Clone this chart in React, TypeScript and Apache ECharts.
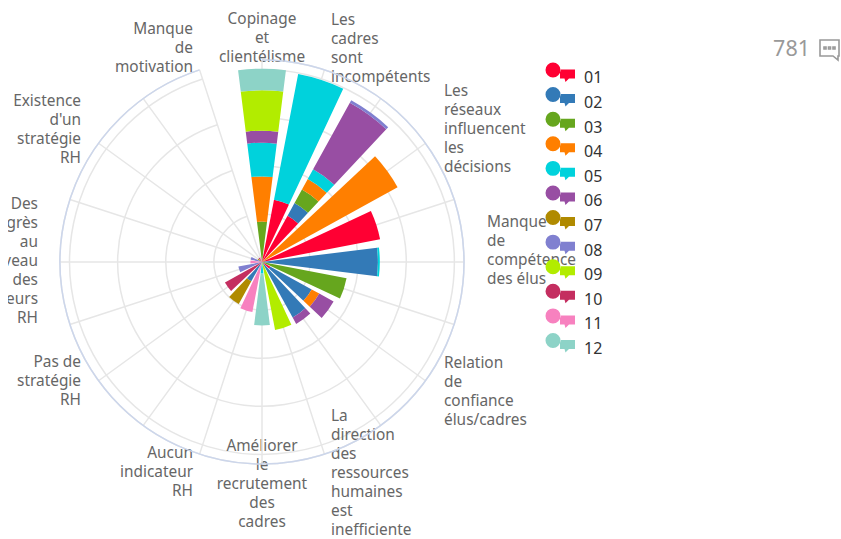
import React, { useEffect, useRef } from "react";
import * as echarts from "echarts";

const categories = [
  "Copinage\net\nclientélisme", "Les\ncadres\nsont\nincompétents", "", "Les\nréseaux\ninfluencent\nles\ndécisions", "",
  "Manque\nde\ncompétence\ndes élus", "", "Relation\nde\nconfiance\nélus/cadres", "",
  "La\ndirection\ndes\nressources\nhumaines\nest\ninefficiente", "Améliorer\nle\nrecrutement\ndes\ncadres",
  "Aucun\nindicateur\nRH", "", "Pas de\nstratégie\nRH", "", "Des\nprogrès\nau\nniveau\ndes\nacteurs\nRH", "",
  "Existence\nd'un\nstratégie\nRH", "", "Manque\nde\nmotivation",
];

const s01 = [0, 6.6, 5.5, 0, 12.5, 0, 0, 1, 0, 0, 0, 0, 0, 0, 0, 0, 0, 0, 0, 0];
const s02 = [0, 0, 1.5, 0, 0, 12.05, 0, 4.9, 6.6, 0, 0, 0, 2.3, 0, 0, 0, 0, 0, 0, 0];
const s03 = [4.2, 0, 1.6, 0, 0, 0, 8.95, 0, 0, 0, 0, 0, 0, 0, 0, 0, 0, 0, 0, 0];
const s04 = [4.7, 0, 1.25, 16.1, 0, 0, 0, 0.9, 0, 0, 0, 0, 0, 0, 0, 0, 0, 0, 0, 0];
const s05 = [3.5, 13.3, 1.15, 0, 0, 0.2, 0, 0, 0, 0, 1.2, 0, 0, 0, 0, 0, 0, 0, 0, 0];
const s06 = [1.25, 0, 7.9, 0, 0, 0, 0, 1.7, 0.75, 0, 0, 0, 0, 0, 0, 0, 0, 0, 0, 0];
const s07 = [0, 0, 0, 0, 0, 0, 0, 0, 0, 0, 0, 0, 2.7, 0, 0, 0, 0, 0.5, 0, 0];
const s08 = [0, 0, 0.3, 0, 0, 0, 0, 0, 0, 0, 0, 0, 0, 0, 2.5, 0, 1.2, 0, 0, 0];
const s09 = [4.2, 0, 0, 0, 0, 0, 0, 0, 0, 7.2, 0, 0, 0, 0, 0, 0, 0, 0, 0, 0];
const s10 = [0, 0, 0, 0, 0, 0, 0, 0, 0, 0, 0, 0, 0, 4.4, 0, 0, 0, 0, 0.5, 0];
const s11 = [0, 0, 0, 0, 0, 0, 0, 0, 0, 0, 0, 5.3, 0, 0, 0, 1.2, 0, 0, 0, 0.5];
const s12 = [2.25, 0, 0, 0, 0, 0, 0, 0, 0, 0, 5.4, 0, 0, 0, 0, 0, 0, 0, 0, 0];

const seriesNames = ["01", "02", "03", "04", "05", "06", "07", "08", "09", "10", "11", "12"];
const seriesValues = [s01, s02, s03, s04, s05, s06, s07, s08, s09, s10, s11, s12];
const colors = ["#FF0033", "#337AB7", "#66A61E", "#FF7F00", "#00D2DC", "#984EA3", "#B08A00", "#8080D0", "#B2EC00", "#C42E60", "#F781BF", "#8DD3C7"];
const commentCount = "781";

// label padding [top, right, bottom, left] by category index
const labelPadding: Record<number, number[]> = {
  0: [0, 0, -0.5, 0], 1: [0, 0, -10.9, 8.1], 3: [0, 0, -29.3, 22.6], 5: [0, 0, 24, 28],
  7: [-24.3, 0, 0, 22.6], 9: [-43.4, 0, 0, 8.1], 10: [-23, 0, 0, 0], 11: [-6.4, 8.1, 0, 0],
  13: [-25.8, 21.6, 0, 0], 15: [0, 27, 4, 0], 17: [0, 21.6, -20.8, 0], 19: [0, 8.1, -1.4, 0],
};
// labels at 90° and 270° are vertically centred, where only rich text honours padding
const richLabels = [5, 15];

const LEGEND_ICON = "path://M0 0h0.01Z M34 31h0.01Z M0.5 8a7.5 7.5 0 1 0 15 0a7.5 7.5 0 1 0 -15 0Z M15 7.5H30V16.5H24L20.5 20L19.5 16.5H15Z";
echarts.graphic.registerShape(
  "commentIcon",
  echarts.graphic.extendPath(
    "M1 1H20V17H19V21L14 17H1Z M5 8h2v2h-2Z M9.5 8h2v2h-2Z M14 8h2v2h-2Z",
    {}
  )
);

export default function App() {
  const ref = useRef<HTMLDivElement>(null);
  useEffect(() => {
    const chart = echarts.init(ref.current!, null, { renderer: "svg" });
    const fontFamily = "'Noto Sans', sans-serif";
    chart.setOption({
      animation: false,
      color: colors,
      textStyle: { fontFamily },
      polar: { center: [254, 254], radius: 202 },
      angleAxis: {
        type: "category",
        startAngle: 90,
        clockwise: true,
        boundaryGap: false,
        z: 2,
        data: categories.map((value, i) =>
          labelPadding[i]
            ? {
                value,
                textStyle: richLabels.includes(i)
                  ? { padding: labelPadding[i], rich: { a: {} } }
                  : { padding: labelPadding[i] },
              }
            : value
        ),
        axisLine: { show: true, lineStyle: { color: "#ccd6eb", width: 1.5 } },
        axisTick: { show: false },
        axisLabel: { interval: 0, margin: -5, color: "#666666", fontSize: 15.4, lineHeight: 19, fontFamily },
        splitLine: { show: true, lineStyle: { color: "#e6e6e6", width: 1.5 } },
      },
      radiusAxis: {
        type: "value",
        min: 0,
        max: 21,
        interval: 5,
        axisLine: { show: false },
        axisTick: { show: false },
        axisLabel: { show: false },
        splitLine: { show: true, lineStyle: { color: "#e6e6e6", width: 1.5 } },
        z: 1,
      },
      legend: {
        orient: "vertical",
        left: 537,
        top: 54,
        padding: 0,
        itemWidth: 34,
        itemHeight: 31,
        itemGap: -6.4,
        icon: LEGEND_ICON,
        selectedMode: false,
        data: seriesNames,
        textStyle: { color: "#333333", fontSize: 16, fontFamily },
      },
      series: seriesNames.map((name, i) => ({
        name,
        type: "bar",
        coordinateSystem: "polar",
        stack: "total",
        barWidth: "79%",
        data: seriesValues[i],
        z: 3,
      })),
      graphic: [
        { type: "text", right: 31, top: 28, style: { text: commentCount, fill: "#999999", fontSize: 21.5, fontFamily } },
        {
          type: "commentIcon",
          x: 811,
          y: 31,
          style: { fill: "none", stroke: "#999999", lineWidth: 1.6 },
        },
      ],
    });
    return () => chart.dispose();
  }, []);
  return <div ref={ref} style={{ position: "absolute", left: 8, top: 8, width: 833, height: 531 }} />;
}
